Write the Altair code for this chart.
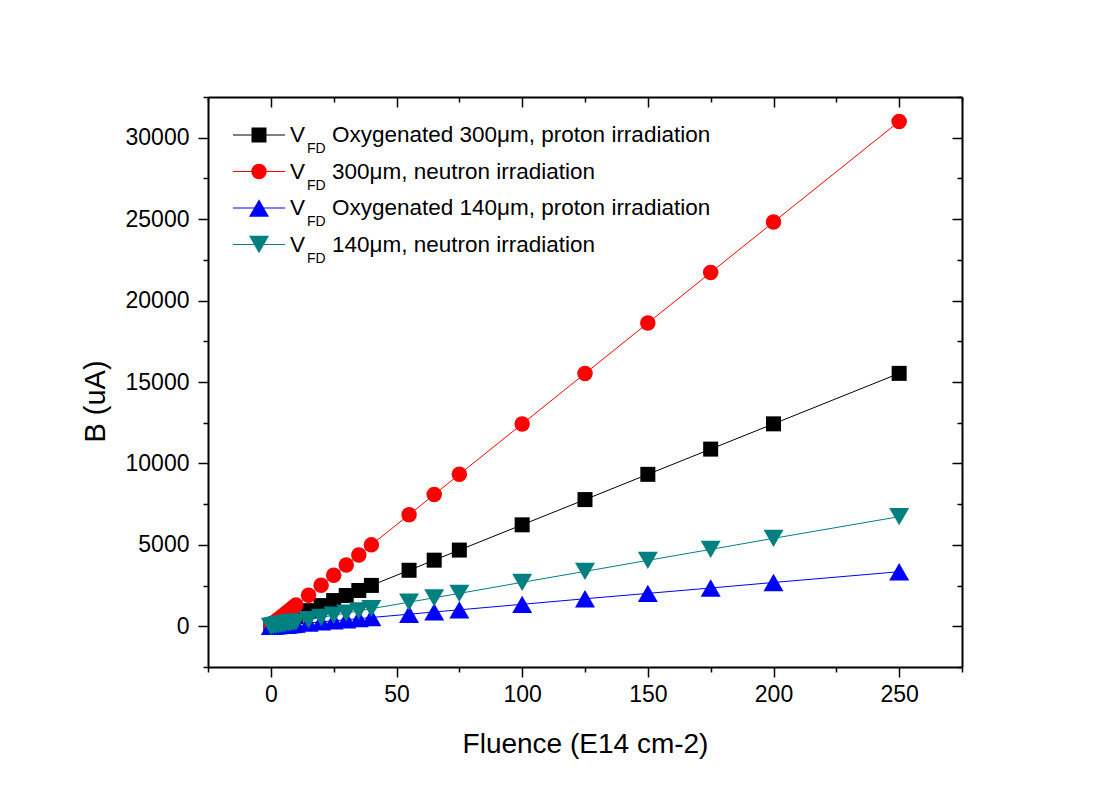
import altair as alt
import pandas as pd

# ---------------- data ----------------
fluence = [0, 1, 2, 3, 4, 5, 6, 7, 8, 9, 10, 15, 20, 25, 30, 35, 40,
           55, 65, 75, 100, 125, 150, 175, 200, 250]

b_oxy300_proton = [30, 90, 150, 210, 270, 340, 400, 460, 520, 580, 650,
                   960, 1270, 1580, 1890, 2200, 2510, 3440, 4060, 4680,
                   6230, 7780, 9330, 10880, 12430, 15530]
b_300_neutron = [60, 190, 310, 430, 560, 680, 800, 930, 1050, 1180, 1300,
                 1900, 2520, 3140, 3760, 4380, 5000, 6850, 8090, 9330,
                 12420, 15520, 18620, 21720, 24820, 31000]
b_oxy140_proton = [0, 13, 27, 40, 54, 67, 80, 95, 110, 120, 135,
                   200, 270, 340, 400, 470, 540, 740, 880, 1010,
                   1350, 1690, 2020, 2350, 2690, 3350]
b_140_neutron = [0, 30, 55, 80, 110, 135, 160, 190, 215, 245, 270,
                 400, 540, 680, 810, 950, 1080, 1480, 1750, 2020,
                 2700, 3370, 4050, 4720, 5400, 6730]

series_keys = ["oxy300p", "n300", "oxy140p", "n140"]
series_values = [b_oxy300_proton, b_300_neutron, b_oxy140_proton, b_140_neutron]
legend_texts = ["Oxygenated 300\u03bcm, proton irradiation",
                "300\u03bcm, neutron irradiation",
                "Oxygenated 140\u03bcm, proton irradiation",
                "140\u03bcm, neutron irradiation"]
colors = ["#000000", "#ff0000", "#0000ff", "#008080"]
shapes = ["square", "circle", "triangle-up", "triangle-down"]
sizes = [225, 240, 400, 400]

x_ticks = list(range(-25, 276, 25))
y_ticks = list(range(-2500, 32501, 2500))

FONT = "Liberation Sans"
W, H = 754, 570

rows = []
for key, vals in zip(series_keys, series_values):
    for xv, yv in zip(fluence, vals):
        rows.append({"series": key, "x": xv, "y": yv})
df = pd.DataFrame(rows)

x_scale = alt.Scale(domain=[-25, 275], nice=False, zero=False)
y_scale = alt.Scale(domain=[-2500, 32500], nice=False, zero=False)

x_tick_size = {"condition": {"test": "datum.value % 50 === 0", "value": 10}, "value": 5}
y_tick_size = {"condition": {"test": "datum.value % 5000 === 0", "value": 10}, "value": 5}

common = dict(grid=False, domainColor="black", tickColor="black", domainWidth=2,
              tickWidth=1.5)

x_axis_main = alt.Axis(orient="bottom", values=x_ticks, tickSize=x_tick_size,
                       labelExpr="datum.value % 50 === 0 ? datum.label : ''",
                       format="d", labelFont=FONT, labelFontSize=23, labelColor="black",
                       labelPadding=6, labelFlush=False, labelOverlap=False,
                       title="Fluence (E14 cm-2)", titleFont=FONT, titleFontSize=28,
                       titleFontWeight="normal", titleColor="black", titleY=77,
                       titleBaseline="middle", **common)
y_axis_main = alt.Axis(orient="left", values=y_ticks, tickSize=y_tick_size,
                       labelExpr="datum.value % 5000 === 0 ? datum.label : ''",
                       format="d", labelFont=FONT, labelFontSize=23, labelColor="black",
                       labelPadding=9, labelFlush=False, labelOverlap=False,
                       title="B (uA)", titleFont=FONT, titleFontSize=29,
                       titleFontWeight="normal", titleColor="black", titleX=-113,
                       titleY=304, titleBaseline="middle", **common)
x_axis_top = alt.Axis(orient="bottom", offset=-H, values=x_ticks, tickSize=x_tick_size,
                      labels=False, title=None, **common)
y_axis_right = alt.Axis(orient="left", offset=-W, values=y_ticks, tickSize=y_tick_size,
                        labels=False, title=None, **common)

axes_main = alt.Chart(df).mark_point(opacity=0).encode(
    x=alt.X("x:Q", scale=x_scale, axis=x_axis_main),
    y=alt.Y("y:Q", scale=y_scale, axis=y_axis_main),
)
axes_frame = alt.Chart(df).mark_point(opacity=0).encode(
    x=alt.X("x:Q", scale=x_scale, axis=x_axis_top),
    y=alt.Y("y:Q", scale=y_scale, axis=y_axis_right),
)

layers = [axes_main, axes_frame]

# one line + symbol layer per series, drawn in legend order
for key, col, shp, sz in zip(series_keys, colors, shapes, sizes):
    sub = alt.Chart(df).transform_filter(alt.datum.series == key)
    layers.append(sub.mark_line(strokeWidth=1, color=col).encode(
        x=alt.X("x:Q", scale=x_scale, axis=None),
        y=alt.Y("y:Q", scale=y_scale, axis=None),
    ))
    layers.append(sub.mark_point(filled=True, opacity=1, strokeWidth=0, color=col,
                                 shape=shp, size=sz).encode(
        x=alt.X("x:Q", scale=x_scale, axis=None),
        y=alt.Y("y:Q", scale=y_scale, axis=None),
    ))

# hand-built legend (needs the V_FD subscript)
for i, (txt, col, shp, sz) in enumerate(zip(legend_texts, colors, shapes, sizes)):
    ly = 38 + 36.5 * i
    ldf = pd.DataFrame({"label": [txt], "v": ["V"], "sub": ["FD"]})
    base = alt.Chart(ldf)
    layers.append(base.mark_rule(color=col, strokeWidth=1).encode(
        x=alt.value(25), x2=alt.value(77), y=alt.value(ly)))
    layers.append(base.mark_point(filled=True, opacity=1, strokeWidth=0, shape=shp,
                                  size=sz, color=col).encode(
        x=alt.value(51), y=alt.value(ly)))
    layers.append(base.mark_text(align="left", baseline="alphabetic", font=FONT,
                                 fontSize=22.5, color="black").encode(
        x=alt.value(82), y=alt.value(ly + 7), text="v:N"))
    layers.append(base.mark_text(align="left", baseline="alphabetic", font=FONT,
                                 fontSize=14, color="black").encode(
        x=alt.value(99), y=alt.value(ly + 18), text="sub:N"))
    layers.append(base.mark_text(align="left", baseline="alphabetic", font=FONT,
                                 fontSize=22.5, color="black").encode(
        x=alt.value(124), y=alt.value(ly + 7), text="label:N"))

chart = alt.layer(*layers).resolve_axis(
    x="independent", y="independent"
).properties(
    width=W, height=H,
    autosize=alt.AutoSizeParams(type="none"),
    padding={"left": 200, "top": 89, "right": 120, "bottom": 110},
    background="white",
).configure_view(stroke="transparent")

chart.save("out.html", embed_options={"renderer": "svg", "actions": False})
